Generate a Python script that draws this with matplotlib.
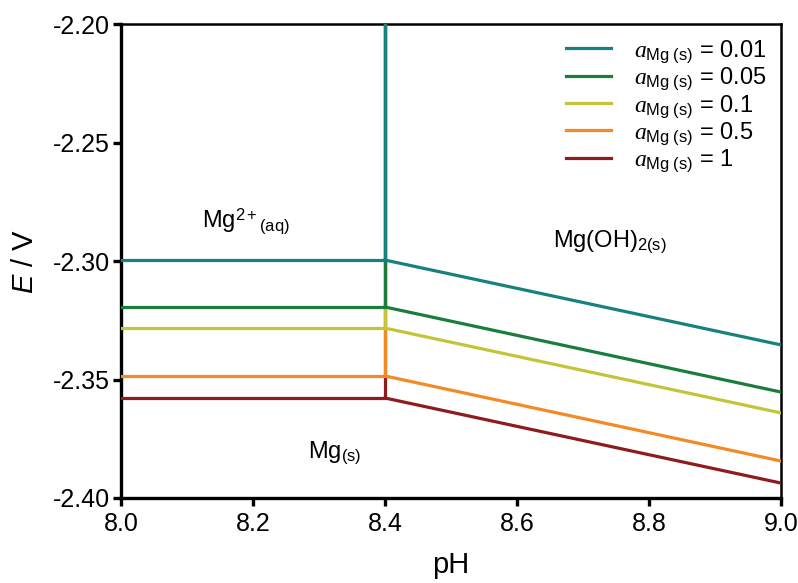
import matplotlib
matplotlib.use("Agg")
import matplotlib.pyplot as plt

plt.rcParams['font.family'] = ['Liberation Sans', 'DejaVu Sans']
plt.rcParams['mathtext.fontset'] = 'custom'
plt.rcParams['mathtext.rm'] = 'Liberation Sans'
plt.rcParams['mathtext.it'] = 'Liberation Serif:italic'
plt.rcParams['mathtext.sf'] = 'Liberation Sans:italic'

# Data
activities = ['0.01', '0.05', '0.1', '0.5', '1']
colors = ['#17817f', '#1a7d3c', '#c3c43a', '#f48a26', '#8e1b1f']
ph_left = [8.0, 8.4]
ph_right = [8.4, 9.0]
e_plateau = [-2.2996, -2.3194, -2.3283, -2.3485, -2.3578]
e_end = [-2.3354, -2.3553, -2.3641, -2.3844, -2.3937]
ph_vertical = 8.4
e_top = -2.20

fig = plt.figure(figsize=(7.98, 5.83), dpi=100)
ax = fig.add_axes([0.1516, 0.1458, 0.9787 - 0.1516, 0.9588 - 0.1458])

lw = 2.3
handles = []
for i in reversed(range(len(activities))):
    c = colors[i]
    z = 10 - i
    ax.plot([ph_vertical, ph_vertical], [e_plateau[i], e_top], color=c, lw=lw, zorder=z,
            solid_capstyle='butt')
    ax.plot(ph_left, [e_plateau[i], e_plateau[i]], color=c, lw=lw, zorder=z)
    h, = ax.plot(ph_right, [e_plateau[i], e_end[i]], color=c, lw=lw, zorder=z,
                 label=r'$a_{\mathrm{Mg\ (s)}}$ = ' + activities[i])
    handles.append(h)
handles = handles[::-1]

ax.set_xlim(8.0, 9.0)
ax.set_ylim(-2.40, -2.20)
ax.set_xticks([8.0, 8.2, 8.4, 8.6, 8.8, 9.0])
ax.set_xticklabels(['8.0', '8.2', '8.4', '8.6', '8.8', '9.0'])
ax.set_yticks([-2.40, -2.35, -2.30, -2.25, -2.20])
ax.set_yticklabels(['-2.40', '-2.35', '-2.30', '-2.25', '-2.20'])

for s in ['left', 'bottom']:
    ax.spines[s].set_linewidth(2.4)
for s in ['top', 'right']:
    ax.spines[s].set_linewidth(1.8)
ax.tick_params(axis='both', direction='out', length=6, width=2.4, labelsize=18)
ax.tick_params(axis='x', pad=4)
ax.tick_params(axis='y', pad=2)

ax.set_xlabel('pH', fontsize=21, labelpad=11)
ax.set_ylabel(r'$\mathsf{E}$ / V', fontsize=21, labelpad=10)

ax.text(8.19, -2.283, r'Mg$^{2+}{}_{\mathrm{(aq)}}$', fontsize=17, ha='center', va='center')
ax.text(8.741, -2.292, r'Mg(OH)$_{2\mathrm{(s)}}$', fontsize=17, ha='center', va='center')
ax.text(8.324, -2.381, r'Mg$_{\mathrm{(s)}}$', fontsize=17, ha='center', va='center')

leg = ax.legend(handles=handles, loc='upper right', frameon=False, fontsize=17,
                handlelength=1.9, handletextpad=1.0, labelspacing=0.02,
                borderaxespad=0.2, bbox_to_anchor=(1.0, 1.0))

fig.savefig('out.png', dpi=100)
